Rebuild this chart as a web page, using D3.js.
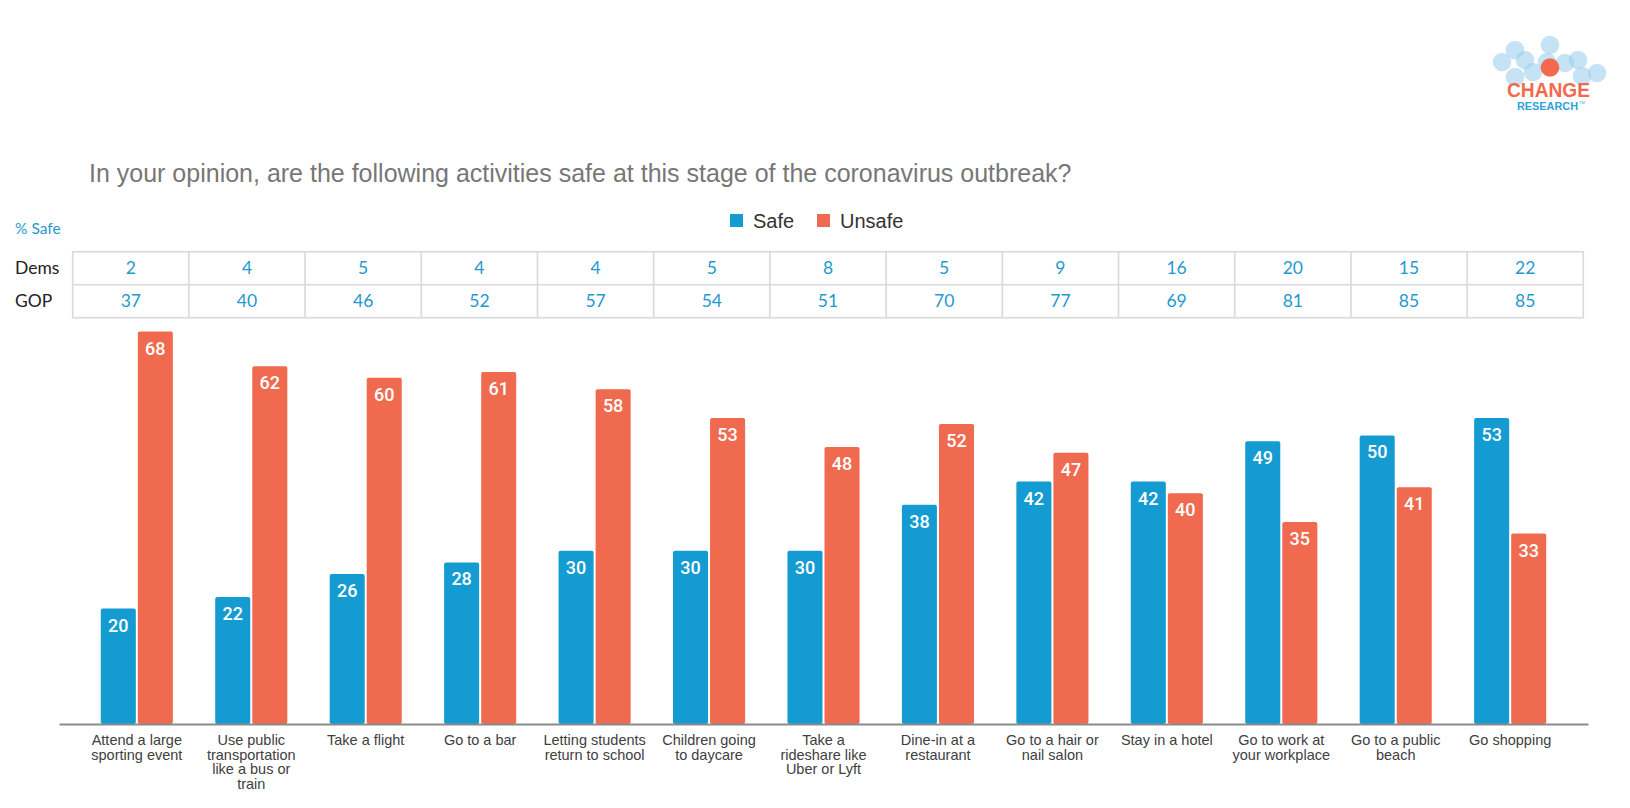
<!DOCTYPE html>
<html>
<head>
<meta charset="utf-8">
<script src="https://cdn.jsdelivr.net/npm/d3@7"></script>
<style>
  html, body { margin: 0; padding: 0; background: #fff; }
  svg { display: block; }
</style>
</head>
<body>
<svg id="chart" width="1630" height="808"></svg>
<script>
const categories = [
  "Attend a large\nsporting event",
  "Use public\ntransportation\nlike a bus or\ntrain",
  "Take a flight",
  "Go to a bar",
  "Letting students\nreturn to school",
  "Children going\nto daycare",
  "Take a\nrideshare like\nUber or Lyft",
  "Dine-in at a\nrestaurant",
  "Go to a hair or\nnail salon",
  "Stay in a hotel",
  "Go to work at\nyour workplace",
  "Go to a public\nbeach",
  "Go shopping"
];
const safeValues   = [20, 22, 26, 28, 30, 30, 30, 38, 42, 42, 49, 50, 53];
const unsafeValues = [68, 62, 60, 61, 58, 53, 48, 52, 47, 40, 35, 41, 33];
const demsSafe = [2, 4, 5, 4, 4, 5, 8, 5, 9, 16, 20, 15, 22];
const gopSafe  = [37, 40, 46, 52, 57, 54, 51, 70, 77, 69, 81, 85, 85];
const seriesNames = ["Safe", "Unsafe"];
const tableRows = ["Dems", "GOP"];
const titleText = "In your opinion, are the following activities safe at this stage of the coronavirus outbreak?";

const BLUE = "#149cd2", ORANGE = "#f06a50", TBLUE = "#1f99cf";
const svg = d3.select("#chart");

// Logo
const logo = svg.append("g");
const logoCircles = [[1515,50],[1502,62],[1525,60],[1550,45],[1547,62],[1565,63],[1578,60],[1597,73],[1515,77],[1582,76],[1533,72]];
logo.selectAll("circle.b").data(logoCircles).join("circle")
  .attr("cx", d => d[0]).attr("cy", d => d[1]).attr("r", 9.3)
  .attr("fill", "#9fd0ec").attr("opacity", 0.6);
logo.append("circle").attr("cx", 1550).attr("cy", 67.5).attr("r", 9.3).attr("fill", "#f2694e");
logo.append("text").attr("x", 1507).attr("y", 97).attr("textLength", 83).attr("lengthAdjust", "spacingAndGlyphs")
  .attr("font-family", "Liberation Sans, Arial, sans-serif").attr("font-weight", "bold").attr("font-size", 20)
  .attr("fill", "#f2694e").text("CHANGE");
logo.append("text").attr("x", 1517).attr("y", 110).attr("textLength", 61).attr("lengthAdjust", "spacingAndGlyphs")
  .attr("font-family", "Liberation Sans, Arial, sans-serif").attr("font-weight", "bold").attr("font-size", 11)
  .attr("fill", "#2ea3d8").text("RESEARCH");
logo.append("text").attr("x", 1579).attr("y", 104)
  .attr("font-family", "Liberation Sans, Arial, sans-serif").attr("font-size", 4)
  .attr("fill", "#2ea3d8").text("TM");

// Title
svg.append("text").attr("x", 89).attr("y", 181.7)
  .attr("font-family", "Liberation Sans, Arial, sans-serif").attr("font-size", 25)
  .attr("fill", "#777").text(titleText);

// % Safe
svg.append("text").attr("x", 15).attr("y", 233.5)
  .attr("font-family", "Lato, 'Open Sans', sans-serif").attr("font-size", 15.5)
  .attr("fill", TBLUE).text("% Safe");

// Legend
const colors = d3.scaleOrdinal(seriesNames, [BLUE, ORANGE]);
const legendX = d3.scaleOrdinal(seriesNames, [730, 817]);
const lg = svg.append("g");
lg.selectAll("rect").data(seriesNames).join("rect")
  .attr("x", d => legendX(d)).attr("y", 214).attr("width", 13).attr("height", 13)
  .attr("fill", d => colors(d));
lg.selectAll("text").data(seriesNames).join("text")
  .attr("x", d => legendX(d) + 23).attr("y", 227.5)
  .attr("font-family", "Liberation Sans, Arial, sans-serif").attr("font-size", 20)
  .attr("fill", "#333").text(d => d);

// Table
const tx = d3.scaleBand(categories, [72.7, 1583.3]);
const ty = d3.scaleBand(tableRows, [251.7, 317.7]);
const tableData = [demsSafe, gopSafe];
const tg = svg.append("g");
tg.append("rect").attr("x", tx.range()[0]).attr("y", ty.range()[0])
  .attr("width", tx.range()[1] - tx.range()[0]).attr("height", ty.range()[1] - ty.range()[0])
  .attr("fill", "none").attr("stroke", "#d9d9d9").attr("stroke-width", 1.6);
tg.selectAll("line.v").data(categories.slice(1)).join("line")
  .attr("x1", d => tx(d)).attr("x2", d => tx(d))
  .attr("y1", ty.range()[0]).attr("y2", ty.range()[1])
  .attr("stroke", "#d9d9d9").attr("stroke-width", 1.6);
tg.append("line").attr("x1", tx.range()[0]).attr("x2", tx.range()[1])
  .attr("y1", ty("GOP")).attr("y2", ty("GOP"))
  .attr("stroke", "#d9d9d9").attr("stroke-width", 1.6);
tg.selectAll("text.rl").data(tableRows).join("text").attr("class", "rl")
  .attr("x", 15).attr("y", d => ty(d) + ty.bandwidth() / 2 + 6)
  .attr("font-family", "Lato, 'Open Sans', sans-serif").attr("font-size", 17.5)
  .attr("fill", "#222").text(d => d);
tableRows.forEach((row, ri) => {
  tg.selectAll("text.r" + ri).data(categories).join("text").attr("class", "r" + ri)
    .attr("x", d => tx(d) + tx.bandwidth() / 2)
    .attr("y", ty(row) + ty.bandwidth() / 2 + 6)
    .attr("text-anchor", "middle")
    .attr("font-family", "Lato, 'Open Sans', sans-serif").attr("font-size", 17.5)
    .attr("fill", TBLUE).text((d, i) => tableData[ri][i]);
});

// Bars
const x0 = d3.scaleBand(categories, [59, 1588]).paddingInner(0.37).paddingOuter(0.365);
const x1 = d3.scaleBand(seriesNames, [0, x0.bandwidth()]).paddingInner(0.054);
const y = d3.scaleLinear([0, 70], [724, 320]);
const seriesValues = { Safe: safeValues, Unsafe: unsafeValues };

const groups = svg.append("g").selectAll("g").data(categories).join("g")
  .attr("transform", d => `translate(${x0(d)},0)`);
const barData = (d, i) => seriesNames.map(s => ({ s, v: seriesValues[s][i] }));
groups.selectAll("rect").data(barData).join("rect")
  .attr("x", d => x1(d.s)).attr("width", x1.bandwidth())
  .attr("y", d => y(d.v)).attr("height", d => y(0) - y(d.v))
  .attr("rx", 2).attr("fill", d => colors(d.s));
groups.selectAll("text").data(barData).join("text")
  .attr("x", d => x1(d.s) + x1.bandwidth() / 2).attr("y", d => y(d.v) + 23)
  .attr("text-anchor", "middle")
  .attr("font-family", "Roboto, sans-serif").attr("font-weight", 500).attr("font-size", 18)
  .attr("fill", "#fff").text(d => d.v);

// Axis
const axis = svg.append("g").attr("transform", `translate(0,${y(0)})`)
  .call(d3.axisBottom(x0).tickSize(0).tickFormat(""));
axis.select(".domain").attr("stroke", "#8a8a8a").attr("stroke-width", 2);

const labels = svg.append("g").selectAll("text").data(categories).join("text")
  .attr("x", d => x0(d) + x0.bandwidth() / 2).attr("y", y(0) + 21)
  .attr("text-anchor", "middle")
  .attr("font-family", "Liberation Sans, Arial, sans-serif").attr("font-size", 14.5)
  .attr("fill", "#404040");
labels.selectAll("tspan").data(d => d.split("\n")).join("tspan")
  .attr("x", function() { return this.parentNode.getAttribute("x"); })
  .attr("dy", (d, i) => i === 0 ? 0 : 14.5)
  .text(d => d);
</script>
</body>
</html>
